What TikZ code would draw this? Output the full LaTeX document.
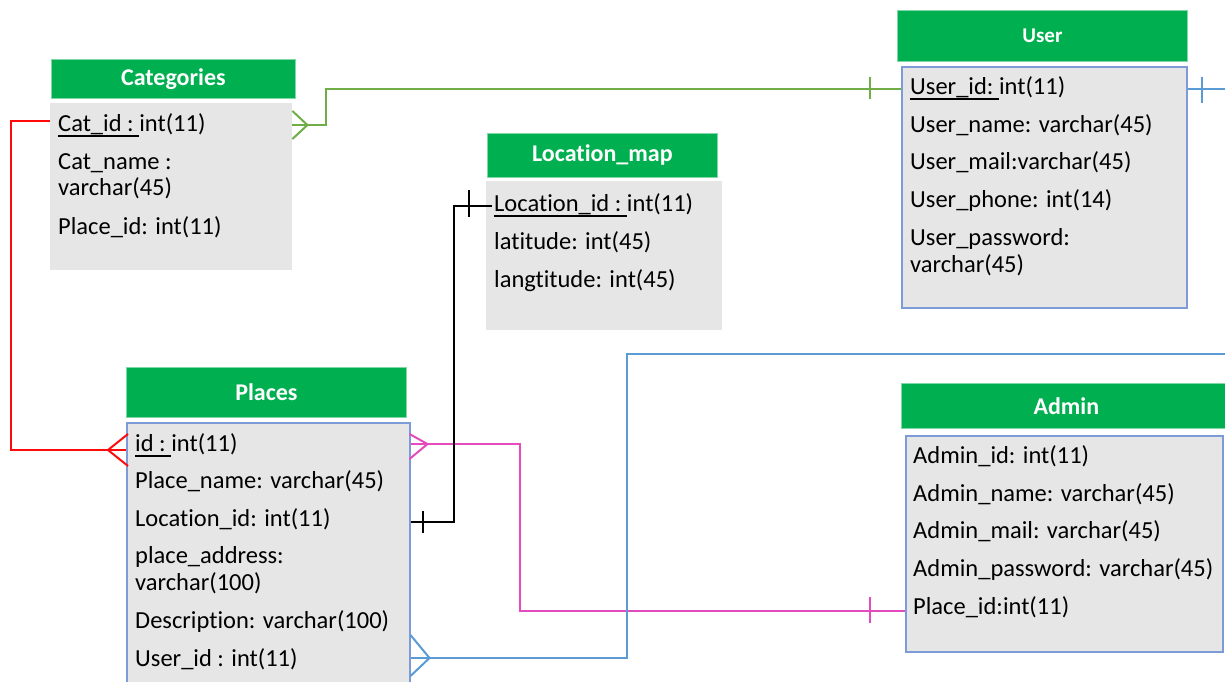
\documentclass[tikz,border=0pt]{standalone}
\usepackage{fontspec}
\setmainfont{Carlito}[Ligatures=NoCommon]
\usetikzlibrary{calc}

\definecolor{hdrgreen}{RGB}{0,176,80}
\definecolor{bodygray}{RGB}{230,230,230}
\definecolor{tblblue}{RGB}{125,155,215}
\definecolor{lgreen}{RGB}{112,173,71}
\definecolor{lred}{RGB}{255,10,10}
\definecolor{lmagenta}{RGB}{228,76,190}
\definecolor{lblue}{RGB}{91,155,213}

% key field: text with a firm rule below the baseline
\newcommand\keyul[1]{\leavevmode\setbox0\hbox{#1}\rlap{\rule[-6pt]{\wd0}{1.7pt}}\box0}

\tikzset{
  hdr/.style={fill=hdrgreen, draw=hdrgreen!50!white, line width=0.8pt, text=white,
    font=\fontsize{24}{28}\selectfont\bfseries, anchor=north west, inner sep=0pt},
  tbl/.style={fill=bodygray, anchor=north west, inner sep=0pt},
  tblframed/.style={tbl, draw=tblblue, line width=1.5pt},
  fld/.style={anchor=base west, inner sep=0pt, font=\fontsize{24.5}{28}\selectfont},
  link/.style={line width=2pt},
  tick/.style={line width=2pt},
}

\begin{document}
\begin{tikzpicture}[x=1pt, y=-1pt]
\useasboundingbox (0,0) rectangle (1225,681);
\fill[white] (0,0) rectangle (1225,681);
\clip (0,0) rectangle (1225,681);

% ---------- Categories ----------
\node[hdr, minimum width=244pt, minimum height=39pt] (cathdr) at (51,59) {Categories};
\node[tbl, minimum width=242pt, minimum height=167pt] (catbody) at (50,103) {};
\node[fld] (catid)   at (58,131) {\keyul{Cat\_id :\ }int(11)};
\node[fld] (catname) at (58,169) {Cat\_name :};
\node[fld] (catnamet) at (58,195) {varchar(45)};
\node[fld] (catpid)  at (58,234) {Place\_id: int(11)};

% ---------- User ----------
\node[hdr, minimum width=290pt, minimum height=51pt, font=\fontsize{21}{25}\selectfont\bfseries] (userhdr) at (897,10) {User};
\node[tblframed, minimum width=285pt, minimum height=241pt] (userbody) at (901,66) {};
\node[fld] (userid)    at (910,94)  {\keyul{User\_id:\ }int(11)};
\node[fld] (username)  at (910,132) {User\_name: varchar(45)};
\node[fld] (usermail)  at (910,169) {User\_mail:varchar(45)};
\node[fld] (userphone) at (910,207) {User\_phone: int(14)};
\node[fld] (userpw)    at (910,245) {User\_password:};
\node[fld] (userpwt)   at (910,272) {varchar(45)};

% ---------- Location_map ----------
\node[hdr, minimum width=230pt, minimum height=44pt] (lochdr) at (487,133) {Location\_map};
\node[tbl, minimum width=236pt, minimum height=149pt] (locbody) at (486,181) {};
\node[fld] (locid)  at (494,211) {\keyul{Location\_id :\ }int(11)};
\node[fld] (loclat) at (494,249) {latitude: int(45)};
\node[fld] (loclng) at (494,287) {langtitude: int(45)};

% ---------- Places ----------
\node[hdr, minimum width=280pt, minimum height=50pt] (plhdr) at (126,367) {Places};
\node[tblframed, minimum width=283pt, minimum height=290pt] (plbody) at (126,422) {};
\node[fld] (plid)    at (135,451) {\keyul{id :\ }int(11)};
\node[fld] (plname)  at (135,488) {Place\_name: varchar(45)};
\node[fld] (plloc)   at (135,526) {Location\_id: int(11)};
\node[fld] (pladdr)  at (135,563) {place\_address:};
\node[fld] (pladdrt) at (135,590) {varchar(100)};
\node[fld] (pldesc)  at (135,628) {Description: varchar(100)};
\node[fld] (pluser)  at (135,666) {User\_id : int(11)};

% ---------- Admin ----------
\node[hdr, minimum width=330pt, minimum height=45pt, text width=317pt, align=center] (admhdr) at (901,383) {Admin};
\node[tblframed, minimum width=317pt, minimum height=216pt] (admbody) at (905,435) {};
\node[fld] (admid)   at (913,463) {Admin\_id: int(11)};
\node[fld] (admname) at (913,501) {Admin\_name: varchar(45)};
\node[fld] (admmail) at (913,538) {Admin\_mail: varchar(45)};
\node[fld] (admpw)   at (913,576) {Admin\_password: varchar(45)};
\node[fld] (admpid)  at (913,614) {Place\_id:int(11)};

% ---------- connector ports ----------
\coordinate (cat-r)   at ($(catbody.north east)+(0,22)$);
\coordinate (cat-l)   at ($(catbody.north west)+(0,18)$);
\coordinate (user-l)  at ($(userbody.north west)+(0,23)$);
\coordinate (user-r)  at ($(userbody.north east)+(0,23)$);
\coordinate (loc-l)   at ($(locbody.north west)+(6,25)$);
\coordinate (pl-l)    at ($(plbody.north west)+(0,28)$);
\coordinate (pl-id)   at ($(plbody.north east)+(0,22)$);
\coordinate (pl-loc)  at ($(plbody.north east)+(0,100)$);
\coordinate (pl-user) at ($(plbody.north east)+(0,236)$);
\coordinate (adm-l)   at ($(admbody.north west)+(0,176)$);

% Categories (many) -- User (one)
\draw[link, lgreen] (cat-r) -- ++(34,0) |- (user-l);
\draw[link, lgreen] ($(cat-r)+(0,-14)$) -- ($(cat-r)+(15,0)$) -- ($(cat-r)+(0,14)$);
\draw[tick, lgreen] ($(user-l)+(-31,-12)$) -- ($(user-l)+(-31,10)$);

% Categories -- Places (many)
\draw[link, lred] (cat-l) -- ++(-39,0) |- (pl-l);
\draw[link, lred] ($(pl-l)+(2,-16)$) -- ($(pl-l)+(-18,0)$) -- ($(pl-l)+(2,16)$);

% Places (many) -- Admin (one)
\draw[link, lmagenta] (pl-id) -- ++(109,0) |- (adm-l);
\draw[link, lmagenta] ($(pl-id)+(-1,-10)$) -- ($(pl-id)+(17,0)$) -- ($(pl-id)+(-1,15)$);
\draw[tick, lmagenta] ($(adm-l)+(-35,-14)$) -- ($(adm-l)+(-35,12)$);

% Places (one) -- Location_map (one)
\draw[link, black] (pl-loc) -- ++(43,0) |- (loc-l);
\draw[tick, black] ($(pl-loc)+(12,-11)$) -- ($(pl-loc)+(12,11)$);
\draw[tick, black] ($(loc-l)+(-23,-16)$) -- ($(loc-l)+(-23,11)$);

% Places (many) -- User (one), routed round the right side
\draw[link, lblue] (pl-user) -| (627,354) -- (1250,354) |- (user-r);
\draw[link, lblue] ($(pl-user)+(0,-23)$) -- ($(pl-user)+(19,0)$) -- ($(pl-user)+(0,18)$);
\draw[tick, lblue] ($(user-r)+(14,-12)$) -- ($(user-r)+(14,14)$);
\end{tikzpicture}
\end{document}
